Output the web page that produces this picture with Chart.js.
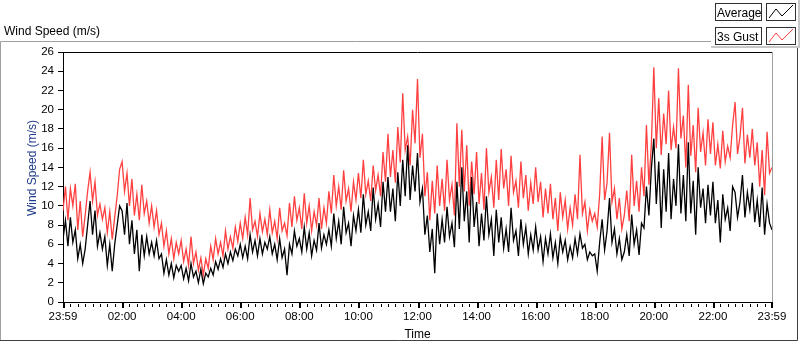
<!DOCTYPE html>
<html lang="en">
  <head>
    <meta charset="UTF-8" />
    <meta name="viewport" content="width=device-width, initial-scale=1.0" />
    <title>Wind Speed</title>
    <script src="https://cdn.jsdelivr.net/npm/chart.js"></script>
    <style>
      html, body { margin: 0; padding: 0; background: #fff; }
      #wrap { position: relative; width: 800px; height: 342px; }
    </style>
  </head>
  <body>
    <div id="wrap"><canvas id="chart-wind"></canvas></div>
    <script>
      // one sample every 5 minutes, 23:59 -> 23:59
      const sampleStep = 5;

      const gust = [
        9.5, 12, 8.5, 11.8, 10, 12.3, 7.5, 10.5, 6.8, 9, 11.5, 13.5,
        10.5, 12.5, 9, 10.2, 8.6, 9.8, 7.2, 9.4, 6.5, 8.8, 11, 13.8,
        14.6, 11.5, 13.4, 10, 12.8, 9, 11.2, 8.5, 12.2, 9.2, 10.5, 8.2,
        10, 7.8, 9.5, 7, 8.2, 5.8, 7.4, 5, 6.6, 4.5, 6.2, 5,
        6.4, 4.2, 5.5, 3.8, 6.8, 4, 5.2, 3.3, 4.6, 2.8, 4.5, 3.5,
        5.8, 4.4, 6.6, 5, 6.2, 4.8, 7.4, 5.5, 6.8, 5.6, 7.8, 6.3,
        8.2, 6.6, 8.8, 7, 10.8, 7.5, 8.4, 6.8, 9.2, 7.3, 8.6, 7,
        9.6, 7.2, 8.4, 6.6, 9.8, 7.4, 8.2, 6.9, 10.3, 7.8, 11, 8.5,
        9.8, 7.6, 11.3, 8.2, 10, 7.4, 9.4, 8, 10.8, 7.6, 9.8, 8.2,
        11.5, 9.2, 13.2, 10, 12, 9.6, 13.7, 10.5, 11.8, 9.4, 12.5, 10.6,
        13.4, 10.8, 14.8, 11.2, 12.6, 10.5, 14.2, 11.6, 13.2, 11, 15.6, 12.5,
        17.5, 13, 15.8, 12.4, 18.2, 14.5, 21.7, 15.8, 17.2, 14.2, 20, 16.5,
        23.2, 15, 17.5, 11, 13.5, 8.5, 12.6, 9.2, 14.2, 10, 12.8, 9.5,
        14.8, 10.6, 12.2, 9, 18.6, 12, 17.9, 11.5, 16.3, 10, 14.6, 11.2,
        15.6, 10.2, 13.4, 9.6, 16, 11.4, 13, 9.8, 14.8, 10.6, 15.9, 11.8,
        13.8, 10, 15.2, 11.4, 12.6, 9.8, 14.6, 10.8, 13.2, 9.5, 12.4, 10.2,
        14, 10.4, 12.5, 8.8, 11.8, 9.2, 12.3, 8.6, 10.8, 7.4, 11.4, 8.8,
        10.6, 7.6, 9.8, 8, 11.2, 8.6, 15.3, 9.2, 10.4, 7.4, 9.6, 8.4,
        9.2, 7.8, 11.2, 17.2, 10.6, 12.4, 17.6, 10.4, 11.8, 8.6, 10.8, 7.6,
        9, 11.6, 8.4, 15.3, 10, 12.6, 9.4, 14, 11, 18.4, 12.2, 16.4,
        24.4, 16, 21.2, 15.3, 19.6, 16.4, 22, 15.8, 18.2, 16, 24.3, 17,
        19.4, 14, 22.6, 15.2, 18.4, 13.5, 20.2, 15.6, 17.6, 14.2, 19, 15.4,
        18.7, 14.2, 16.4, 13.9, 17.8, 14.6, 16.2, 15, 18.4, 20.8, 15.4, 17.2,
        20.2, 14.4, 17.4, 15, 18, 14.2, 16.6, 12, 15.8, 11.1, 17.7, 13.4,
        14
      ];

      const average = [
        6.5, 8.5, 5.8, 8.8, 6.2, 7.5, 4.5, 6, 4, 5.5, 8, 10.5,
        7, 9.5, 5.8, 7.2, 5.5, 6.8, 3.8, 6, 3.2, 6, 8, 10,
        9.5, 7, 10.3, 6, 8.5, 5, 7.5, 3.2, 7, 4.8, 6.8, 5,
        6.2, 4.8, 6.4, 4.5, 5, 3, 4.4, 2.8, 4, 2.5, 3.8, 3.2,
        3.8, 2.4, 3.5, 2.2, 4, 2.6, 3.2, 2, 3.4, 1.9, 3, 2.6,
        3.5, 2.8, 4.2, 3.4, 4.5, 3.6, 5, 4, 5.2, 4.3, 5.5, 4.8,
        6, 4.6, 5.8, 4.5, 7, 5.2, 6.4, 4.8, 6.6, 5, 6.2, 5.5,
        6.8, 5, 6, 4.4, 6.6, 4.6, 5.5, 2.8, 6, 5, 7.4, 5.8,
        6.6, 5.2, 7.8, 5.5, 7.2, 4.8, 6.4, 5.4, 8.2, 5.6, 7, 6,
        7.5, 5.8, 9.2, 6.6, 8.4, 6, 9.9, 7.2, 8.2, 5.8, 9, 7.4,
        9.6, 7.2, 11.2, 8, 9.4, 7.4, 11.9, 8.6, 10.2, 7.8, 12.5, 9.4,
        13, 9.4, 11.8, 8.4, 13.5, 10, 14.8, 11, 16.3, 10.6, 14.2, 11.5,
        15.5, 10.4, 11.8, 7, 9, 5.2, 7.6, 3, 9.2, 6, 8.6, 6.2,
        9.9, 6.8, 8.2, 5.7, 12.5, 7.6, 14, 8.4, 11.5, 6.2, 13, 7.8,
        10.4, 5.8, 9.2, 6.4, 11, 7, 8.6, 4.8, 9.6, 6.2, 8.8, 5.6,
        7.6, 5.2, 9.8, 6.4, 7.4, 4.8, 8.6, 6, 7.8, 5, 7, 5.4,
        7.8, 5.4, 6.8, 4.2, 6.6, 5, 7.1, 4.6, 6.2, 4, 6.8, 5.2,
        6.4, 4.4, 5.8, 4.6, 6.6, 5, 7.1, 5.6, 6, 4.4, 5.2, 4.8,
        5, 3.2, 6.2, 8.6, 5.4, 7.4, 10.8, 6.2, 7.6, 5, 6.6, 4.4,
        5.2, 7, 4.8, 9.1, 6, 7.5, 4.9, 8.2, 7.7, 12, 9, 13.9,
        17, 10.2, 14.6, 7.7, 13.8, 9.4, 15.5, 8.6, 12.8, 10, 16.4, 9.2,
        13.2, 8.4, 16.6, 9.2, 12.6, 7, 14, 9.8, 11.8, 8.2, 12.2, 9,
        12.5, 8.2, 10.6, 6.2, 11.2, 8.6, 9.8, 7.4, 12, 11.4, 8.8, 10.4,
        13.2, 8.8, 11.4, 9.6, 12.4, 8.3, 10.6, 7.8, 11.9, 7, 10.2, 8.2,
        7.5
      ];

      const timeLabels = [
        "23:59", "02:00", "04:00", "06:00", "08:00", "10:00", "12:00",
        "14:00", "16:00", "18:00", "20:00", "22:00", "23:59"
      ];
      const seriesNames = ["Average", "3s Gust"];
      const seriesColors = ["#000000", "#ff4040"];

      const toPoints = (arr) => arr.map((v, i) => ({ x: i * sampleStep, y: v }));

      // frame, legend, axis titles and the 15-minute ticks of the time axis
      const labviewFrame = {
        id: "labviewFrame",
        beforeDraw(chart) {
          const ctx = chart.ctx;
          ctx.save();
          ctx.fillStyle = "#ffffff";
          ctx.fillRect(0, 0, chart.width, chart.height);
          ctx.restore();
        },
        afterDraw(chart) {
          const { ctx, chartArea: a, scales } = chart;
          const x = scales.x;
          ctx.save();

          // outer frame
          ctx.lineWidth = 1;
          ctx.strokeStyle = "#a0a0a0";
          ctx.beginPath();
          ctx.moveTo(0.5, 341);
          ctx.lineTo(0.5, 41.5);
          ctx.lineTo(712, 41.5);
          ctx.stroke();
          ctx.strokeStyle = "#404040";
          ctx.beginPath();
          ctx.moveTo(0, 340.5);
          ctx.lineTo(797.5, 340.5);
          ctx.lineTo(797.5, 47);
          ctx.stroke();

          // plot top and right edges
          ctx.strokeStyle = "#000000";
          ctx.beginPath();
          ctx.moveTo(a.left, Math.round(a.top) + 0.5);
          ctx.lineTo(a.right, Math.round(a.top) + 0.5);
          ctx.stroke();
          ctx.strokeStyle = "#a0a0a0";
          ctx.beginPath();
          ctx.moveTo(Math.round(a.right) + 0.5, a.top);
          ctx.lineTo(Math.round(a.right) + 0.5, a.bottom);
          ctx.stroke();

          // time axis ticks
          ctx.fillStyle = "#000000";
          x.ticks.forEach((t) => {
            const px = Math.round(x.getPixelForValue(t.value));
            if (t.value % 120 === 0) {
              ctx.fillRect(Math.min(px, Math.round(a.right) - 1), a.bottom + 1, 2, 5);
            } else {
              ctx.fillRect(px, a.bottom + 2, 1, 3);
            }
          });

          // chart title
          ctx.font = "12px 'Liberation Sans', Arial, sans-serif";
          ctx.fillStyle = "#000000";
          ctx.textAlign = "left";
          ctx.textBaseline = "alphabetic";
          ctx.fillText("Wind Speed (m/s)", 4, 35);

          // x title
          ctx.textAlign = "center";
          ctx.fillText("Time", (a.left + a.right) / 2, 338);

          // y title
          ctx.save();
          ctx.translate(33, 168);
          ctx.rotate(-Math.PI / 2);
          ctx.fillStyle = "#1f3b8c";
          ctx.textBaseline = "middle";
          ctx.fillText("Wind Speed (m/s)", 0, 0);
          ctx.restore();

          // legend panel
          ctx.fillStyle = "#ffffff";
          ctx.fillRect(711, 0, 89, 48);
          ctx.fillStyle = "#c8c8c8";
          ctx.fillRect(798, 0, 2, 48);
          ctx.fillRect(711, 46, 89, 2);
          seriesNames.forEach((name, i) => {
            const top = 3 + i * 24;
            ctx.strokeStyle = "#303030";
            ctx.fillStyle = "#ffffff";
            ctx.fillRect(715, top, 47, 18);
            ctx.strokeRect(715.5, top + 0.5, 46, 17);
            ctx.fillRect(766, top, 30, 18);
            ctx.strokeRect(766.5, top + 0.5, 29, 17);
            ctx.fillStyle = "#000000";
            ctx.textAlign = "left";
            ctx.textBaseline = "alphabetic";
            ctx.fillText(name, 717, top + 14);
            ctx.strokeStyle = seriesColors[i];
            ctx.beginPath();
            ctx.moveTo(769, top + 15);
            ctx.lineTo(776, top + 6);
            ctx.lineTo(782, top + 13);
            ctx.lineTo(793, top + 2);
            ctx.stroke();
          });

          ctx.restore();
        },
      };

      Chart.defaults.font.family = "'Liberation Sans', Arial, sans-serif";
      Chart.defaults.color = "#000000";

      new Chart(document.getElementById("chart-wind").getContext("2d"), {
        type: "line",
        data: {
          datasets: [
            {
              label: seriesNames[0],
              data: toPoints(average),
              borderColor: seriesColors[0],
              borderWidth: 1.3,
              pointRadius: 0,
              tension: 0,
            },
            {
              label: seriesNames[1],
              data: toPoints(gust),
              borderColor: seriesColors[1],
              borderWidth: 1.3,
              pointRadius: 0,
              tension: 0,
            },
          ],
        },
        options: {
          responsive: true,
          maintainAspectRatio: false,
          animation: false,
          events: [],
          layout: { padding: { left: 0, top: 52, right: 28, bottom: 0 } },
          plugins: {
            legend: { display: false },
            title: { display: false },
            tooltip: { enabled: false },
          },
          scales: {
            x: {
              type: "linear",
              min: 0,
              max: 1440,
              afterFit(s) { s.height = 40; },
              grid: {
                drawOnChartArea: false,
                drawTicks: true,
                tickLength: 5,
                tickColor: "rgba(0,0,0,0)",
              },
              border: { display: true, color: "#000000", width: 1 },
              ticks: {
                stepSize: 15,
                autoSkip: false,
                maxRotation: 0,
                padding: 3,
                font: { size: 11.5 },
                callback: (v) => (v % 120 === 0 ? timeLabels[v / 120] : ""),
              },
            },
            y: {
              min: 0,
              max: 26,
              afterFit(s) { s.width = 63; },
              grid: {
                drawOnChartArea: false,
                drawTicks: true,
                tickLength: 5,
                tickColor: "#000000",
              },
              border: { display: true, color: "#000000", width: 1 },
              ticks: { stepSize: 2, padding: 4, font: { size: 11.5 } },
            },
          },
        },
        plugins: [labviewFrame],
      });
    </script>
  </body>
</html>
